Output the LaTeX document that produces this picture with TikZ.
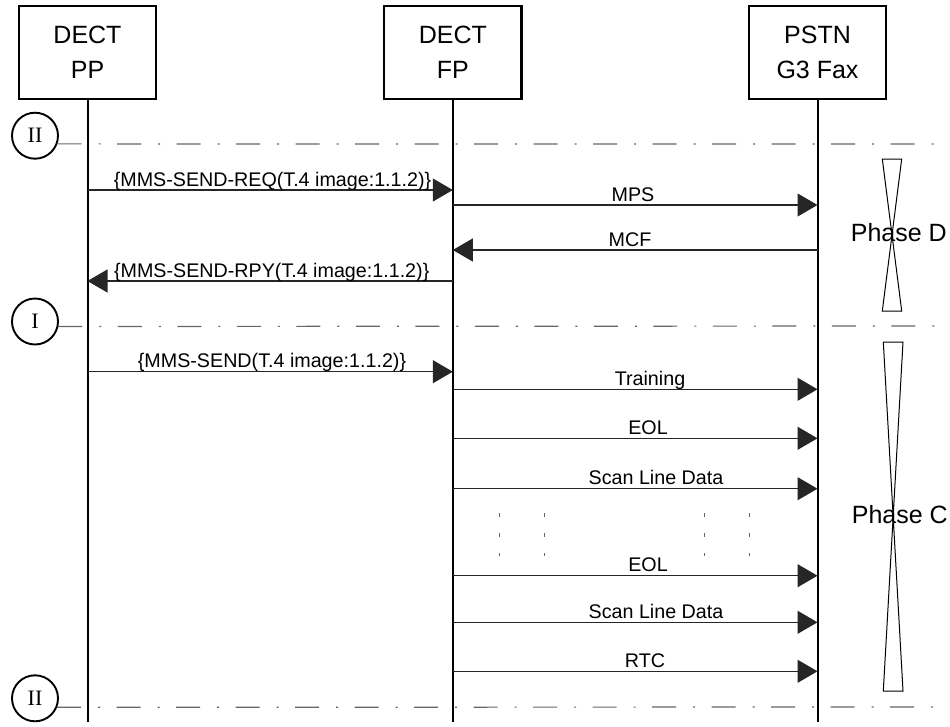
\documentclass[tikz,border=0pt]{standalone}
\usepackage{fontspec}
\setmainfont{Liberation Sans}
\newfontfamily\romanfont{Liberation Serif}
\usetikzlibrary{arrows.meta}
\begin{document}
\begin{tikzpicture}[x=1pt,y=-1pt,
  entity/.style={draw,line width=2.2pt,minimum width=137.5pt,minimum height=92.7pt,inner sep=0pt,align=center,font=\fontsize{25}{35}\selectfont},
  life/.style={line width=2pt},
  msg/.style={line width=1.1pt,draw=black!85,-{Triangle[length=20pt,width=23pt]}},
  lbl/.style={anchor=base,inner sep=0pt,font=\fontsize{19.7}{22}\selectfont},
  marker/.style={circle,draw,line width=1.9pt,minimum size=46pt,inner sep=0pt,font=\romanfont\fontsize{22}{24}\selectfont},
  sep/.style={draw=black!60,line width=1.2pt,dash pattern=on 24pt off 17pt on 2pt off 16.5pt},
  dotmark/.style={draw=black!60,line width=0.9pt,dash pattern=on 3.3pt off 16.7pt},
  phase/.style={line width=1pt},
  phaselbl/.style={anchor=base,inner sep=0pt,font=\fontsize{25}{30}\selectfont}]
\useasboundingbox (0,0) rectangle (950,726);

% entities
\node[entity] (pp) at (87.5,52.3) {DECT\\PP};
\node[entity] (fp) at (452.8,52.3) {DECT\\FP};
\node[entity] (ps) at (817.5,52.3) {PSTN\\G3 Fax};

\coordinate (ppend) at (88,722);
\coordinate (fpend) at (453,722);
\coordinate (psend) at (818,722);
\draw[life] (pp.south) -- (pp.south |- ppend);
\draw[life] (fp.south) -- (fp.south |- fpend);
\draw[life] (ps.south) -- (ps.south |- psend);

% phase separators
\node[marker] (m1) at (35,135.7) {II};
\node[marker] (m2) at (35,321.5) {I};
\node[marker] (m3) at (35,698.3) {II};
\coordinate (s1) at (935,144);
\coordinate (s2) at (935,326);
\coordinate (s3) at (935,707);
\draw[sep] (m1.-20) -- (s1);
\draw[sep] (m2.-12) -- (s2);
\draw[sep] (m3.-22) -- (s3);

% messages
\draw[msg] (pp.south |- 0,190) -- (fp.south |- 0,190);
\node[lbl] (l1) at (272.5,186) {\{MMS-SEND-REQ(T.4 image:1.1.2)\}};
\draw[msg] (fp.south |- 0,205) -- (ps.south |- 0,205);
\node[lbl] (l2) at (633,201) {MPS};
\draw[msg] (ps.south |- 0,250) -- (fp.south |- 0,250);
\node[lbl] (l3) at (630,246) {MCF};
\draw[msg] (fp.south |- 0,281) -- (pp.south |- 0,281);
\node[lbl] (l4) at (271.7,277) {\{MMS-SEND-RPY(T.4 image:1.1.2)\}};

\draw[msg] (pp.south |- 0,371.7) -- (fp.south |- 0,371.7);
\node[lbl] (l5) at (272,367.5) {\{MMS-SEND(T.4 image:1.1.2)\}};
\draw[msg] (fp.south |- 0,389.3) -- (ps.south |- 0,389.3);
\node[lbl] (l6) at (650,385.8) {Training};
\draw[msg] (fp.south |- 0,438.3) -- (ps.south |- 0,438.3);
\node[lbl] (l7) at (648,434.5) {EOL};
\draw[msg] (fp.south |- 0,488.7) -- (ps.south |- 0,488.7);
\node[lbl] (l8) at (656,484.8) {Scan Line Data};
\draw[msg] (fp.south |- 0,575.7) -- (ps.south |- 0,575.7);
\node[lbl] (l9) at (648,571.8) {EOL};
\draw[msg] (fp.south |- 0,622.3) -- (ps.south |- 0,622.3);
\node[lbl] (l10) at (656,618.5) {Scan Line Data};
\draw[msg] (fp.south |- 0,671.3) -- (ps.south |- 0,671.3);
\node[lbl] (l11) at (645,667.5) {RTC};

% continuation marks
\draw[dotmark] (499,513.3) -- (499,556);
\draw[dotmark] (544.7,513.3) -- (544.7,556);
\draw[dotmark] (704,513.3) -- (704,556);
\draw[dotmark] (749.7,513.3) -- (749.7,556);

% phase brackets
\draw[phase] (882.3,159) -- (901.7,159) -- (882.3,311) -- (901.7,311) -- cycle;
\node[phaselbl] (pd) at (898.8,241.5) {Phase D};
\draw[phase] (883.3,342) -- (903,342) -- (883.3,691) -- (903,691) -- cycle;
\node[phaselbl] (pc) at (899.8,523.3) {Phase C};
\end{tikzpicture}
\end{document}
